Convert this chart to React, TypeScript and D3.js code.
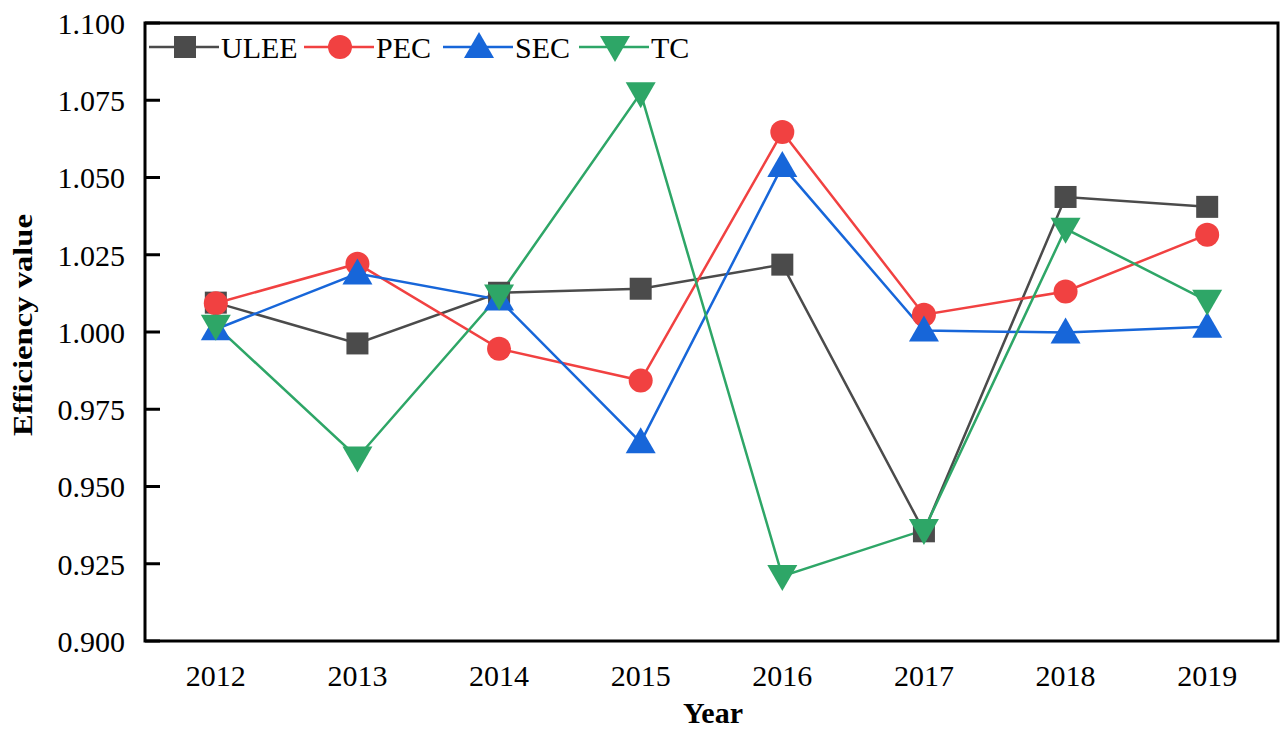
import React, { useEffect, useRef } from 'react'
import * as d3 from 'd3'

const years = ['2012', '2013', '2014', '2015', '2016', '2017', '2018', '2019']
const ulee = [1.0095, 0.9963, 1.0127, 1.014, 1.0218, 0.9355, 1.0437, 1.0405]
const pec = [1.0093, 1.0221, 0.9946, 0.9843, 1.0647, 1.0056, 1.0131, 1.0315]
const sec = [1.0009, 1.0189, 1.0105, 0.9643, 1.0537, 1.0005, 0.9998, 1.0017]
const tc = [1.002, 0.9594, 1.0118, 1.0773, 0.921, 0.9359, 1.0334, 1.0101]
const yTicks = [0.9, 0.925, 0.95, 0.975, 1.0, 1.025, 1.05, 1.075, 1.1]

const series = [
  { name: 'ULEE', values: ulee, color: '#4b4b4b', shape: 'square' },
  { name: 'PEC', values: pec, color: '#f14141', shape: 'circle' },
  { name: 'SEC', values: sec, color: '#1766d9', shape: 'up' },
  { name: 'TC', values: tc, color: '#2ea667', shape: 'down' },
]

const W = 1287
const H = 732
const FONT = '"Liberation Serif", "Times New Roman", serif'

function drawMarker(g: d3.Selection<SVGGElement, unknown, null, undefined>, shape: string, x: number, y: number, color: string) {
  if (shape === 'square') {
    g.append('rect').attr('x', x - 11).attr('y', y - 11).attr('width', 22).attr('height', 22).attr('fill', color)
  } else if (shape === 'circle') {
    g.append('circle').attr('cx', x).attr('cy', y).attr('r', 12).attr('fill', color)
  } else if (shape === 'up') {
    g.append('path')
      .attr('d', `M${x},${y - 15}L${x + 15},${y + 11}L${x - 15},${y + 11}Z`)
      .attr('fill', color)
  } else {
    g.append('path')
      .attr('d', `M${x},${y + 15}L${x + 15},${y - 11}L${x - 15},${y - 11}Z`)
      .attr('fill', color)
  }
}

export default function App() {
  const svgRef = useRef<SVGSVGElement>(null)

  useEffect(() => {
    if (!svgRef.current) return
    const svg = d3.select(svgRef.current)
    svg.selectAll('*').remove()

    const left = 145
    const right = 1278
    const top = 23
    const bottom = 641

    const x = d3.scalePoint<string>().domain(years).range([left, right]).padding(0.5)
    const y = d3.scaleLinear().domain([0.9, 1.1]).range([bottom, top])

    svg.append('rect').attr('width', W).attr('height', H).attr('fill', '#ffffff')

    const plot = svg.append('g')

    // lines
    series.forEach((s) => {
      const line = d3
        .line<number>()
        .x((_, i) => x(years[i]) as number)
        .y((d) => y(d))
      plot
        .append('path')
        .datum(s.values)
        .attr('d', line)
        .attr('fill', 'none')
        .attr('stroke', s.color)
        .attr('stroke-width', 2.5)
    })

    // markers
    series.forEach((s) => {
      const mg = plot.append('g')
      s.values.forEach((v, i) => drawMarker(mg, s.shape, x(years[i]) as number, y(v), s.color))
    })

    // frame
    svg
      .append('rect')
      .attr('x', left)
      .attr('y', top)
      .attr('width', right - left)
      .attr('height', bottom - top)
      .attr('fill', 'none')
      .attr('stroke', '#000')
      .attr('stroke-width', 3)

    // y ticks (inward)
    svg
      .append('g')
      .selectAll('line')
      .data(yTicks)
      .enter()
      .append('line')
      .attr('x1', left)
      .attr('x2', left + 15)
      .attr('y1', (d) => y(d))
      .attr('y2', (d) => y(d))
      .attr('stroke', '#000')
      .attr('stroke-width', 3)

    svg
      .append('g')
      .selectAll('text')
      .data(yTicks)
      .enter()
      .append('text')
      .attr('x', left - 20)
      .attr('y', (d) => y(d))
      .attr('dy', '0.36em')
      .attr('text-anchor', 'end')
      .style('font-family', FONT)
      .style('font-size', '30px')
      .text((d) => d3.format('.3f')(d))

    svg
      .append('g')
      .selectAll('text')
      .data(years)
      .enter()
      .append('text')
      .attr('x', (d) => x(d) as number)
      .attr('y', 686)
      .attr('text-anchor', 'middle')
      .style('font-family', FONT)
      .style('font-size', '30px')
      .text((d) => d)

    svg
      .append('text')
      .attr('x', 713)
      .attr('y', 723)
      .attr('text-anchor', 'middle')
      .style('font-family', FONT)
      .style('font-size', '30px')
      .style('font-weight', 'bold')
      .text('Year')

    svg
      .append('text')
      .attr('transform', `translate(32,325) rotate(-90)`)
      .attr('text-anchor', 'middle')
      .attr('textLength', 222)
      .attr('lengthAdjust', 'spacingAndGlyphs')
      .style('font-family', FONT)
      .style('font-size', '28px')
      .style('font-weight', 'bold')
      .text('Efficiency value')

    // legend
    const legendX = [149, 304, 443, 579]
    const ly = 47
    series.forEach((s, i) => {
      const lg = svg.append('g') as d3.Selection<SVGGElement, unknown, null, undefined>
      const x0 = legendX[i]
      lg.append('line')
        .attr('x1', x0)
        .attr('x2', x0 + 70)
        .attr('y1', ly)
        .attr('y2', ly)
        .attr('stroke', s.color)
        .attr('stroke-width', 2.5)
      drawMarker(lg, s.shape, x0 + 36, ly, s.color)
      lg.append('text')
        .attr('x', x0 + 72)
        .attr('y', ly)
        .attr('dy', '0.36em')
        .style('font-family', FONT)
        .style('font-size', '30px')
        .text(s.name)
    })
  }, [])

  return (
    <div style={{ position: 'absolute', left: 0, top: 0 }}>
      <svg ref={svgRef} width={W} height={H} style={{ display: 'block' }} />
    </div>
  )
}
